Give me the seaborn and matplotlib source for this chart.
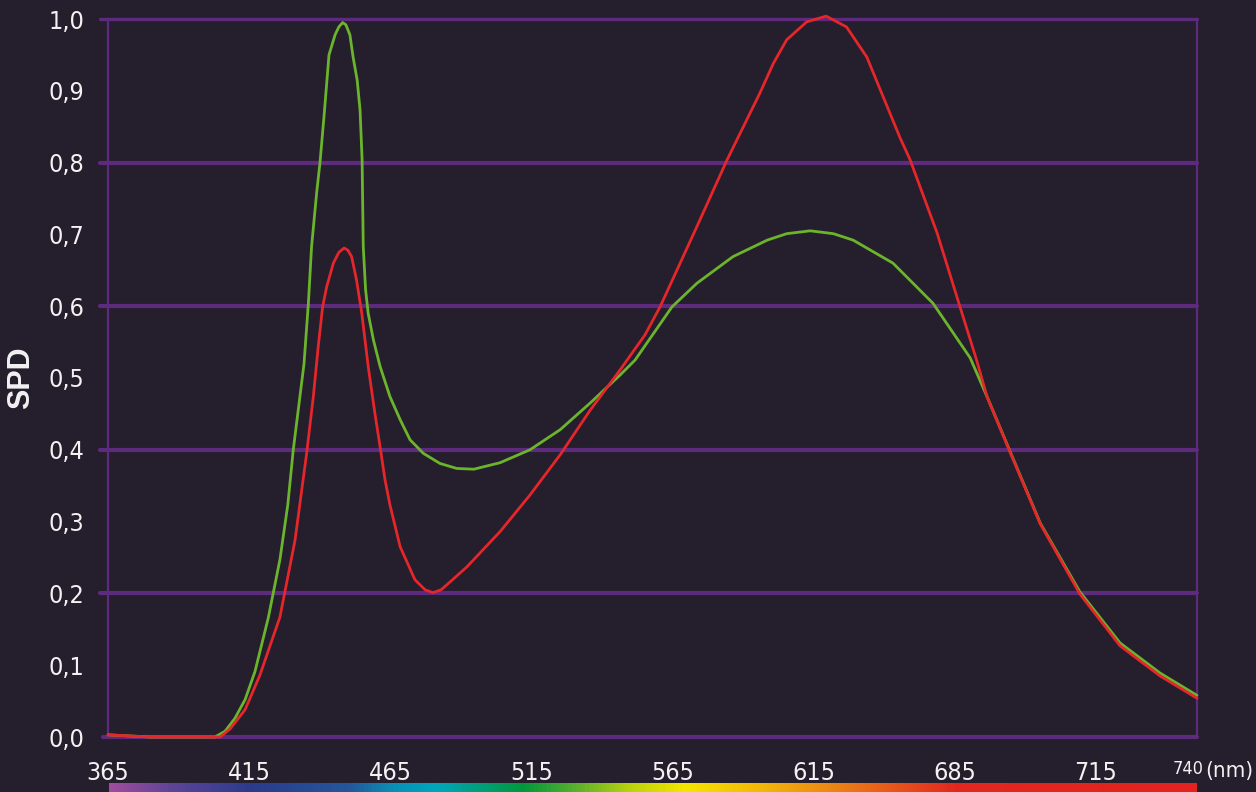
import numpy as np
import pandas as pd
import seaborn as sns
import matplotlib.pyplot as plt
from matplotlib.colors import LinearSegmentedColormap

# spectra (nm, relative SPD)
green_nm = [365.0, 379.5, 401.8, 405.3, 408.7, 412.2, 415.6, 420.2, 424.2, 426.9,
            428.8, 432.5, 434.0, 435.1, 436.9, 438.0, 439.4, 441.1, 443.2,
            444.5, 445.8, 446.9, 448.3, 449.4, 450.8, 451.8, 452.5, 452.9, 453.7,
            454.6, 456.4, 458.7, 462.1, 465.6, 469.0, 473.6, 479.3, 485.1, 491.0,
            500.0, 510.3, 520.7, 531.0, 541.3, 546.5, 559.2, 567.8, 580.2, 592.0,
            598.7, 606.8, 614.8, 621.6, 635.3, 649.1, 661.9, 667.7, 675.6, 686.0,
            699.7, 713.5, 727.3, 740.0]
green_spd = [0.003, 0.0, 0.0, 0.008, 0.026, 0.052, 0.091, 0.166, 0.247, 0.323,
             0.400, 0.520, 0.604, 0.683, 0.760, 0.800, 0.865, 0.950, 0.978,
             0.989, 0.995, 0.992, 0.978, 0.947, 0.915, 0.873, 0.804, 0.683, 0.623,
             0.590, 0.553, 0.516, 0.474, 0.442, 0.414, 0.395, 0.381, 0.374, 0.373,
             0.382, 0.400, 0.428, 0.465, 0.504, 0.525, 0.599, 0.632, 0.669, 0.692,
             0.701, 0.705, 0.701, 0.692, 0.660, 0.604, 0.528, 0.474, 0.398, 0.298,
             0.202, 0.131, 0.089, 0.058]

red_nm = [365.0, 379.5, 403.6, 407.0, 412.2, 417.3, 424.2, 429.4, 433.4, 435.7,
          437.4, 438.9, 440.3, 442.6, 444.5, 446.3, 447.6, 448.9, 450.6, 452.4,
          454.6, 456.9, 458.7, 460.4, 462.1, 465.6, 470.7, 474.2, 476.9, 479.7,
          482.8, 488.6, 500.0, 510.3, 520.7, 531.0, 541.3, 549.9, 555.1, 567.8,
          578.2, 589.5, 594.1, 598.7, 605.6, 612.3, 619.3, 626.3, 637.7, 641.2,
          650.5, 658.4, 664.1, 667.7, 675.6, 686.0, 699.7, 713.5, 727.3, 740.0]
red_spd = [0.003, 0.0, 0.0, 0.011, 0.038, 0.086, 0.167, 0.274, 0.395, 0.474,
           0.544, 0.599, 0.627, 0.660, 0.675, 0.681, 0.678, 0.669, 0.636, 0.590,
           0.516, 0.451, 0.404, 0.358, 0.323, 0.265, 0.219, 0.205, 0.201, 0.205,
           0.216, 0.237, 0.286, 0.337, 0.393, 0.455, 0.511, 0.560, 0.599, 0.711,
           0.804, 0.897, 0.938, 0.971, 0.996, 1.004, 0.989, 0.947, 0.835, 0.804,
           0.702, 0.599, 0.525, 0.474, 0.397, 0.297, 0.199, 0.127, 0.085, 0.054]

x_labels = ['365', '415', '465', '515', '565', '615', '685', '715']
y_ticks = [0.0, 0.1, 0.2, 0.3, 0.4, 0.5, 0.6, 0.7, 0.8, 0.9, 1.0]
grid_levels = [0.2, 0.4, 0.6, 0.8, 1.0]

bg = '#251e2c'
purple = '#5e2a7e'
txt = '#f2f2f2'
cond = dict(family='DejaVu Sans', stretch='condensed')

sns.set_style('dark')
plt.rcParams['font.family'] = ['Liberation Sans', 'DejaVu Sans']

df = pd.concat([
    pd.DataFrame({'nm': green_nm, 'spd': green_spd, 'curve': 'green'}),
    pd.DataFrame({'nm': red_nm, 'spd': red_spd, 'curve': 'red'}),
])

fig = plt.figure(figsize=(12.56, 7.92), dpi=100, facecolor=bg)
ax = fig.add_axes([108 / 1256, 55 / 792, 1089 / 1256, 718 / 792])
ax.set_facecolor(bg)

# grid lines (stick out a bit to the left like ticks)
for lv in grid_levels:
    ax.axhline(lv, xmin=-0.007, xmax=1, color=purple,
               lw=3.0 if lv < 1 else 2.4, clip_on=False, zorder=1)
ax.axhline(0, xmin=-0.005, xmax=1, color=purple, lw=3.0, clip_on=False, zorder=1)

sns.lineplot(data=df, x='nm', y='spd', hue='curve',
             palette={'green': '#6bb52c', 'red': '#e5262a'},
             hue_order=['green', 'red'], sort=False, estimator=None,
             lw=2.0, legend=False, ax=ax, zorder=3)
for ln in ax.lines:
    ln.set_clip_on(False)
    ln.set_solid_joinstyle('round')

ax.set_xlim(365, 740)
ax.set_ylim(0, 1.0)
for s in ['top', 'bottom']:
    ax.spines[s].set_visible(False)
for s in ['left', 'right']:
    ax.spines[s].set_visible(True)
    ax.spines[s].set_color(purple)
    ax.spines[s].set_linewidth(1.6)
ax.grid(False)

tick_pos = [365 + 48.6 * i for i in range(len(x_labels))]
ax.set_xticks(tick_pos)
ax.set_xticklabels(x_labels, fontsize=18, color=txt, **cond)
ax.set_yticks(y_ticks)
ax.set_yticklabels([f'{v:.1f}'.replace('.', ',') for v in y_ticks],
                   fontsize=18, color=txt, **cond)
ax.tick_params(axis='x', length=0, pad=17)
ax.tick_params(axis='y', length=0, pad=17)
ax.set_xlabel('')
ax.set_ylabel('SPD', fontsize=22, fontweight='bold', color=txt)
ax.yaxis.set_label_coords(-0.066, 0.5)

ax.text(737.0, -0.045, '740', fontsize=13, color=txt,
        ha='center', va='center', **cond)
ax.text(751.0, -0.047, '(nm)', fontsize=16, color=txt,
        ha='center', va='center', clip_on=False, **cond)

# spectrum bar below the axis
stops = [(0.0, '#a04c9c'), (0.06, '#5a4496'), (0.13, '#2b3b8b'), (0.22, '#24579c'),
         (0.26, '#0a8fb5'), (0.30, '#00a6bc'), (0.38, '#00983c'), (0.43, '#5cb02e'),
         (0.48, '#bcd30c'), (0.53, '#f5e500'), (0.60, '#f3b60a'), (0.66, '#ec8a14'),
         (0.72, '#e6581c'), (0.78, '#e2281f'), (1.0, '#e2231f')]
cmap = LinearSegmentedColormap.from_list('spec', stops)
bar = fig.add_axes([109 / 1256, 0, 1088 / 1256, 9 / 792])
bar.imshow(np.linspace(0, 1, 512)[None, :], aspect='auto', cmap=cmap)
bar.axis('off')

fig.savefig('out.png', dpi=100, facecolor=bg)
